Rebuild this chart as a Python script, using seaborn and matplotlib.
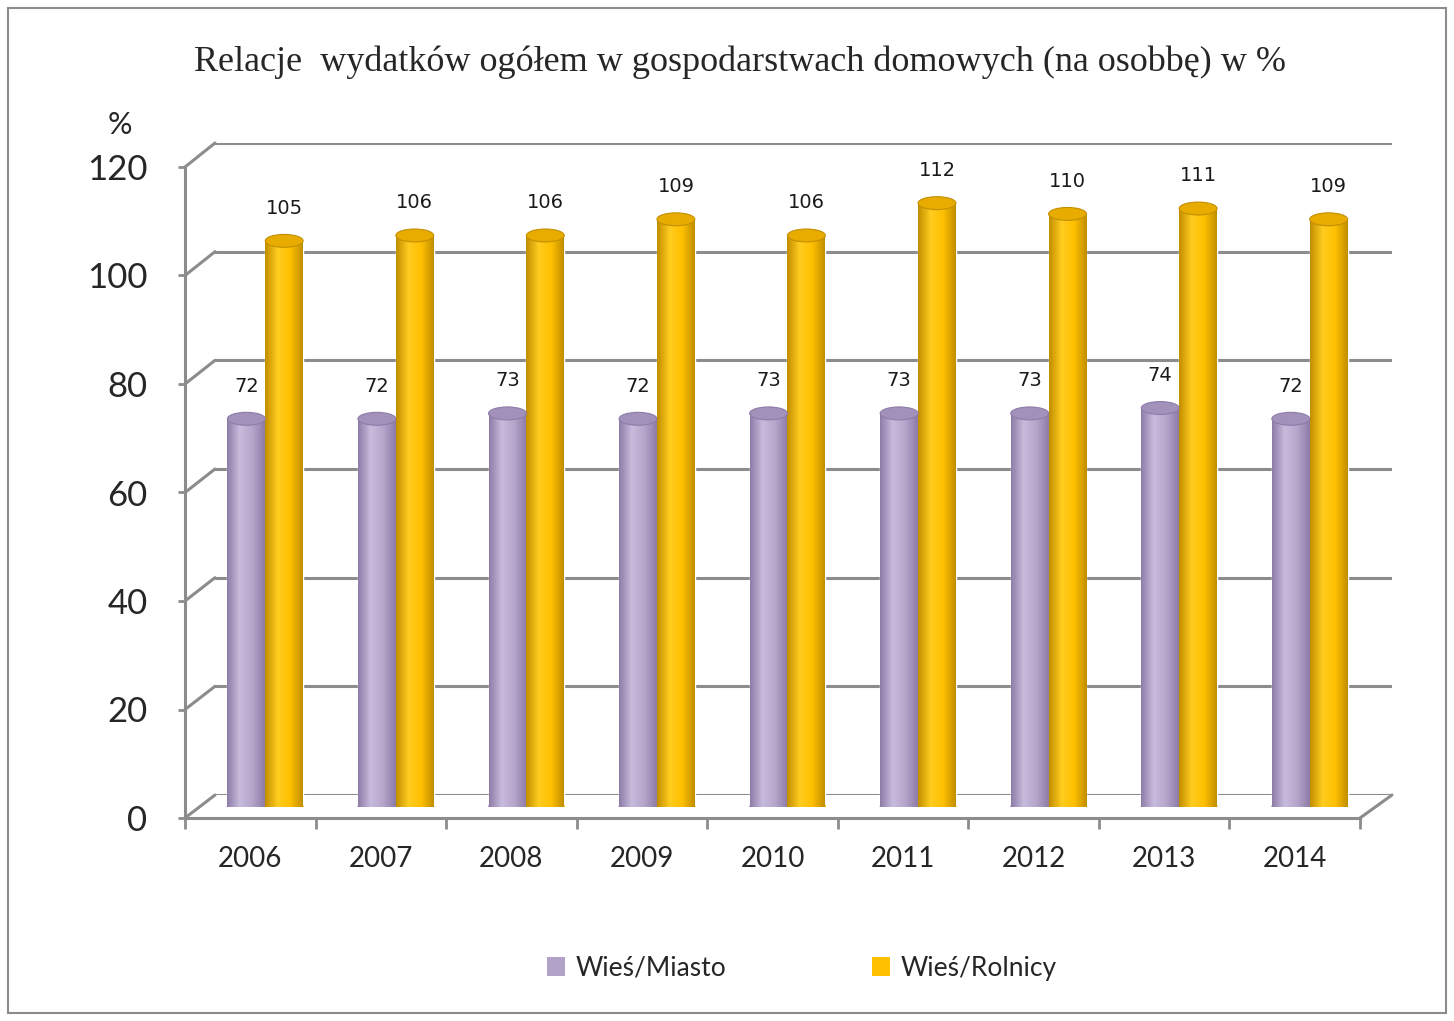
import numpy as np
import pandas as pd
import matplotlib
matplotlib.use("Agg")
import matplotlib.pyplot as plt
import seaborn as sns
from matplotlib.colors import LinearSegmentedColormap
from matplotlib.patches import Ellipse, Patch, Rectangle
from matplotlib.lines import Line2D

years = ["2006", "2007", "2008", "2009", "2010", "2011", "2012", "2013", "2014"]
wies_miasto = [72, 72, 73, 72, 73, 73, 73, 74, 72]
wies_rolnicy = [105, 106, 106, 109, 106, 112, 110, 111, 109]
series = ["Wieś/Miasto", "Wieś/Rolnicy"]
yticks = [0, 20, 40, 60, 80, 100, 120]

colors = {"Wieś/Miasto": "#B3A2C7", "Wieś/Rolnicy": "#FFC000"}
shades = {
    "Wieś/Miasto": ["#8E7CA8", "#C8BBDC", "#B6A6CB", "#8E7CA8"],
    "Wieś/Rolnicy": ["#C28F00", "#FFCC20", "#FFC000", "#C28F00"],
}
tops = {"Wieś/Miasto": "#A291BA", "Wieś/Rolnicy": "#E8AC00"}

df = pd.DataFrame({
    "rok": years * 2,
    "seria": [series[0]] * len(years) + [series[1]] * len(years),
    "wartosc": wies_miasto + wies_rolnicy,
})

sns.set_style("white")
plt.rcParams["font.family"] = ["Lato", "DejaVu Sans"]

W, H = 1454, 1021
fig = plt.figure(figsize=(W / 100, H / 100), dpi=100)
grid_col = "#8C8C8C"


def rect(left, right, y0, y120):
    return [left / W, (H - y0) / H, (right - left) / W, (y0 - y120) / H]


# back wall (gridlines), bar plane, front axis plane
ax_back = fig.add_axes(rect(215, 1392, 795, 143))
ax_bars = fig.add_axes(rect(200, 1375, 807, 160))
ax_front = fig.add_axes(rect(185, 1360, 818, 167))

for a in (ax_back, ax_bars, ax_front):
    a.set_xlim(-0.5, len(years) - 0.5)
    a.set_ylim(0, 120)
    a.patch.set_alpha(0)

ax_back.axis("off")
for t in yticks:
    ax_back.axhline(t, color=grid_col, lw=2.2, zorder=0)

sns.barplot(data=df, x="rok", y="wartosc", hue="seria", hue_order=series,
            palette=colors, width=0.58, gap=0, legend=False, ax=ax_bars)
ax_bars.axis("off")

# cylinder shading + top caps
grad = np.linspace(0, 1, 64).reshape(1, -1)
bars = [p for p in ax_bars.patches if p.get_height() > 0]
for i, p in enumerate(bars):
    s = series[0] if i < len(years) else series[1]
    x, w, h = p.get_x(), p.get_width(), p.get_height()
    cmap = LinearSegmentedColormap.from_list(s, shades[s])
    im = ax_bars.imshow(grad, extent=[x, x + w, 0, h], cmap=cmap,
                        aspect="auto", zorder=p.get_zorder() + 0.1)
    im.set_clip_path(p)
    ax_bars.add_patch(Ellipse((x + w / 2, 0), w, 2.4, color=shades[s][2],
                              zorder=p.get_zorder()))
    ax_bars.add_patch(Ellipse((x + w / 2, h), w, 2.4, facecolor=tops[s],
                              edgecolor=shades[s][0], lw=0.8,
                              zorder=p.get_zorder() + 0.2))
    ax_bars.text(x + w / 2, h + 4.3, f"{h:.0f}", ha="center", va="bottom",
                 fontsize=14, family="DejaVu Sans", color="#1a1a1a")
ax_bars.set_xlim(-0.5, len(years) - 0.5)
ax_bars.set_ylim(0, 120)

# front axes
for sp in ("top", "right"):
    ax_front.spines[sp].set_visible(False)
for sp in ("left", "bottom"):
    ax_front.spines[sp].set_color(grid_col)
    ax_front.spines[sp].set_linewidth(2.2)
ax_front.set_yticks(yticks)
ax_front.set_yticklabels([str(t) for t in yticks], fontsize=25)
ax_front.tick_params(axis="y", length=5, width=2, color=grid_col, pad=22,
                     left=True)
ax_front.set_xticks(np.arange(-0.5, len(years), 1))
ax_front.set_xticklabels([])
ax_front.tick_params(axis="x", which="major", length=8, width=2,
                     color=grid_col, bottom=True)
ax_front.set_xticks(np.arange(len(years)), minor=True)
ax_front.set_xticklabels(years, minor=True, fontsize=20)
ax_front.tick_params(axis="x", which="minor", length=0, pad=20)
ax_front.set_xlabel("")
ax_front.set_ylabel("")

# perspective connectors
inv = fig.transFigure.inverted()
def connect(xv, yv):
    p1 = inv.transform(ax_front.transData.transform((xv, yv)))
    p2 = inv.transform(ax_back.transData.transform((xv, yv)))
    fig.add_artist(Line2D([p1[0], p2[0]], [p1[1], p2[1]], color=grid_col, lw=2.2))

for t in yticks:
    connect(-0.5, t)
connect(len(years) - 0.5, 0)

fig.text(740 / W, 1 - 62 / H,
         "Relacje  wydatków ogółem w gospodarstwach domowych (na osobbę) w %",
         ha="center", va="center", fontsize=26, family="Liberation Serif")
fig.text(120 / W, 1 - 125 / H, "%", ha="center", va="center", fontsize=22)

handles = [Patch(facecolor=colors[s], edgecolor="none") for s in series]
fig.legend(handles, series, loc="center", bbox_to_anchor=(802 / W, 1 - 968 / H),
           ncol=2, frameon=False, fontsize=19, columnspacing=5.5,
           handlelength=0.7, handleheight=0.7, handletextpad=0.4)

fig.add_artist(Rectangle((8 / W, 8 / H), 1 - 16 / W, 1 - 16 / H,
                         transform=fig.transFigure, fill=False,
                         edgecolor=grid_col, lw=1.5))

fig.savefig("out.png", dpi=100)
